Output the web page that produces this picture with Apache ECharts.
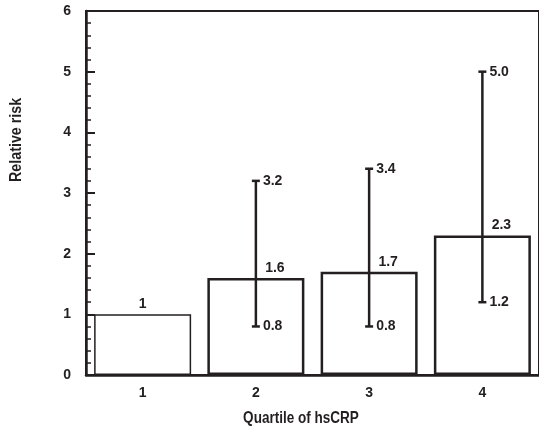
<!DOCTYPE html>
<html>
<head>
<meta charset="utf-8">
<script src="https://cdn.jsdelivr.net/npm/echarts@6/dist/echarts.min.js"></script>
<style>
  html, body { margin: 0; padding: 0; background: #fff; }
  #main { width: 539px; height: 430px; }
</style>
</head>
<body>
<div id="main"></div>
<script>
var quartiles = ['1', '2', '3', '4'];
var relRisk = [1, 1.6, 1.7, 2.3];
var riskLabels = ['1', '1.6', '1.7', '2.3'];
var lowCI = [null, 0.8, 0.8, 1.2];
var highCI = [null, 3.2, 3.4, 5.0];
var yTicks = [0, 1, 2, 3, 4, 5, 6];

var ink = '#231f20';
var font = 'Liberation Sans';

var myChart = echarts.init(document.getElementById('main'));

var barData = relRisk.map(function (v, i) {
  return {
    value: v,
    itemStyle: { borderWidth: i === 0 ? 1.5 : 2.5 },
    label: i === 0 ? { offset: [0, 0] } : { offset: [19, 0] }
  };
});

var ciData = [];
quartiles.forEach(function (q, i) {
  if (lowCI[i] != null) ciData.push([i, lowCI[i], highCI[i]]);
});

function renderCI(params, api) {
  var x = api.value(0), lo = api.value(1), hi = api.value(2);
  var pHi = api.coord([x, hi]);
  var pLo = api.coord([x, lo]);
  var lw = { stroke: ink, lineWidth: 2.5 };
  var txt = function (p, v) {
    return {
      type: 'text',
      style: {
        text: v.toFixed(1), x: p[0] + 7, y: p[1],
        verticalAlign: 'middle', align: 'left',
        font: 'bold 14px ' + font, fill: ink
      }
    };
  };
  return {
    type: 'group',
    children: [
      { type: 'line', shape: { x1: pHi[0], y1: pHi[1], x2: pLo[0], y2: pLo[1] }, style: lw },
      { type: 'line', shape: { x1: pHi[0] - 4, y1: pHi[1], x2: pHi[0] + 4, y2: pHi[1] }, style: lw },
      { type: 'line', shape: { x1: pLo[0] - 4, y1: pLo[1], x2: pLo[0] + 4, y2: pLo[1] }, style: lw },
      txt(pHi, hi),
      txt(pLo, lo)
    ]
  };
}

var option = {
  backgroundColor: '#fff',
  animation: false,
  grid: {
    left: 86, top: 11, width: 455, height: 364,
    show: true, borderColor: ink, borderWidth: 2, backgroundColor: 'transparent'
  },
  xAxis: {
    type: 'category',
    data: quartiles,
    axisLine: { lineStyle: { color: ink, width: 2.5 } },
    axisTick: { inside: true, length: 6, lineStyle: { color: ink, width: 2 } },
    axisLabel: { color: ink, fontFamily: font, fontWeight: 'bold', fontSize: 14, margin: 11 }
  },
  yAxis: {
    type: 'value',
    min: yTicks[0],
    max: yTicks[yTicks.length - 1],
    interval: 1,
    splitLine: { show: false },
    axisLine: { show: true, lineStyle: { color: ink, width: 2.5 } },
    axisTick: { show: true, inside: true, length: 9, lineStyle: { color: ink, width: 2 } },
    minorTick: { show: true, splitNumber: 5, length: 5, lineStyle: { color: ink, width: 1.5 } },
    axisLabel: { color: ink, fontFamily: font, fontWeight: 'bold', fontSize: 14, margin: 15 }
  },
  graphic: [
    {
      type: 'text', x: 8, y: 182, rotation: Math.PI / 2, scaleX: 0.84,
      style: { text: 'Relative risk', font: 'bold 17px ' + font, fill: ink, align: 'left', verticalAlign: 'top' }
    },
    {
      type: 'text', x: 301, y: 418, scaleX: 0.82,
      style: { text: 'Quartile of hsCRP', font: 'bold 16.5px ' + font, fill: ink, align: 'center', verticalAlign: 'middle' }
    }
  ],
  series: [
    {
      type: 'bar',
      data: barData,
      barWidth: 97,
      itemStyle: { color: '#fff', borderColor: ink },
      label: {
        show: true, position: 'top', distance: 3,
        color: ink, fontFamily: font, fontWeight: 'bold', fontSize: 14,
        formatter: function (p) { return riskLabels[p.dataIndex]; }
      }
    },
    {
      type: 'custom',
      data: ciData,
      renderItem: renderCI,
      z: 5
    }
  ]
};

myChart.setOption(option);
</script>
</body>
</html>
